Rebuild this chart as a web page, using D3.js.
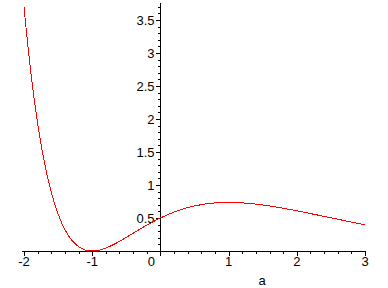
<!DOCTYPE html>
<html>
<head>
<meta charset="utf-8">
<script src="https://cdn.jsdelivr.net/npm/d3@7"></script>
<style>
  body { margin: 0; background: #fff; }
  text { font-family: "Liberation Sans", Arial, sans-serif; font-size: 13px; fill: #000; }
</style>
</head>
<body>
<div id="chart"></div>
<script>
// values, a from -2 to 3 in steps of 0.1
let aValues = [-2.0, -1.9, -1.8, -1.7, -1.6, -1.5, -1.4, -1.3, -1.2, -1.1,
  -1.0, -0.9, -0.8, -0.7, -0.6, -0.5, -0.4, -0.3, -0.2, -0.1,
  0.0, 0.1, 0.2, 0.3, 0.4, 0.5, 0.6, 0.7, 0.8, 0.9,
  1.0, 1.1, 1.2, 1.3, 1.4, 1.5, 1.6, 1.7, 1.8, 1.9,
  2.0, 2.1, 2.2, 2.3, 2.4, 2.5, 2.6, 2.7, 2.8, 2.9, 3.0];
let fValues = [3.695, 2.708, 1.936, 1.341, 0.892, 0.560, 0.324, 0.165, 0.066, 0.015,
  0.000, 0.012, 0.045, 0.091, 0.146, 0.206, 0.269, 0.331, 0.391, 0.448,
  0.500, 0.547, 0.589, 0.626, 0.657, 0.682, 0.702, 0.718, 0.728, 0.734,
  0.736, 0.734, 0.729, 0.721, 0.710, 0.697, 0.682, 0.666, 0.648, 0.629,
  0.609, 0.589, 0.567, 0.546, 0.524, 0.503, 0.481, 0.460, 0.439, 0.418, 0.398];
let xTicks = [-2, -1, 0, 1, 2, 3];
let yTicks = [0.5, 1, 1.5, 2, 2.5, 3, 3.5];
let xLabel = "a";

let width = 388, height = 288;

let svg = d3.select("#chart")
  .append("svg")
  .attr("width", width)
  .attr("height", height);

// scales
let x = d3.scaleLinear().domain([-2, 3]).range([24, 365]);
let y = d3.scaleLinear().domain([0, 3.5]).range([251, 20]);

let x0 = Math.round(x(0)) + 0.5;
let y0 = Math.round(y(0)) + 0.5;

let axes = svg.append("g")
  .attr("stroke", "#000")
  .attr("shape-rendering", "crispEdges");

// x axis line + ticks (pointing down)
axes.append("line")
  .attr("x1", 22).attr("x2", x(3) + 0.5)
  .attr("y1", y0).attr("y2", y0);

let xMinor = d3.range(-2, 3.001, 0.2).map(d => +d.toFixed(1));
axes.selectAll(".xminor")
  .data(xMinor)
  .join("line")
  .attr("x1", d => Math.round(x(d)) + 0.5)
  .attr("x2", d => Math.round(x(d)) + 0.5)
  .attr("y1", y0)
  .attr("y2", d => y0 + (Number.isInteger(d) ? 4 : 2.5));

// y axis line + ticks (pointing left)
axes.append("line")
  .attr("x1", x0).attr("x2", x0)
  .attr("y1", y(3.76)).attr("y2", y0 + 4);

let yMinor = d3.range(0.1, 3.701, 0.1).map(d => +d.toFixed(1));
axes.selectAll(".yminor")
  .data(yMinor)
  .join("line")
  .attr("x1", d => x0 - (Math.abs(d * 2 - Math.round(d * 2)) < 1e-6 ? 5 : 3))
  .attr("x2", x0)
  .attr("y1", d => Math.round(y(d)) + 0.5)
  .attr("y2", d => Math.round(y(d)) + 0.5);

// tick labels
svg.append("g")
  .selectAll("text")
  .data(xTicks)
  .join("text")
  .attr("x", d => d === 0 ? x(d) - 9 : x(d))
  .attr("y", 266)
  .attr("text-anchor", "middle")
  .text(d => d);

svg.append("g")
  .selectAll("text")
  .data(yTicks)
  .join("text")
  .attr("x", x0 - 6)
  .attr("y", d => y(d) + 5)
  .attr("text-anchor", "end")
  .text(d => d);

svg.append("text")
  .attr("x", 262)
  .attr("y", 285)
  .attr("text-anchor", "middle")
  .text(xLabel);

// curve
let points = aValues.map((a, i) => [a, fValues[i]]);
let line = d3.line()
  .x(d => x(d[0]))
  .y(d => y(d[1]))
  .curve(d3.curveCatmullRom);

svg.append("path")
  .datum(points)
  .attr("d", line)
  .attr("fill", "none")
  .attr("stroke", "#ff0000")
  .attr("stroke-width", 1)
  .attr("shape-rendering", "crispEdges");
</script>
</body>
</html>
